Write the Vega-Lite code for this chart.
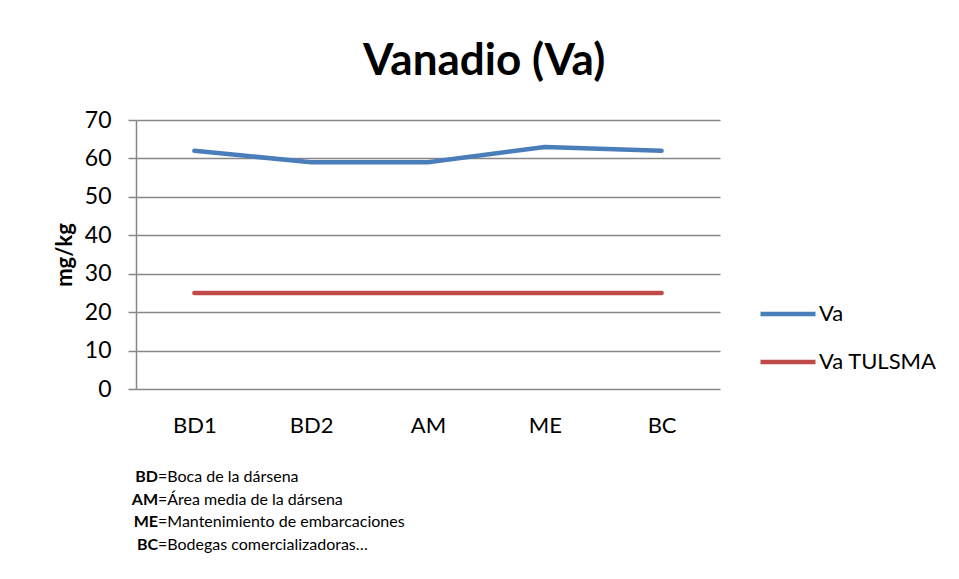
{
  "$schema": "https://vega.github.io/schema/vega-lite/v6.json",
  "padding": {"left": 53, "top": 40, "right": 0, "bottom": 0},
  "background": "white",
  "title": {
    "text": "Vanadio (Va)",
    "font": "Lato",
    "fontSize": 44,
    "fontWeight": "bold",
    "color": "#000000",
    "anchor": "middle",
    "offset": 25,
    "dx": -11
  },
  "config": {
    "view": {"stroke": null},
    "font": "Lato"
  },
  "spacing": 30,
  "vconcat": [
    {
      "width": 584,
      "height": 269,
      "data": {
        "values": [
          {"site": "BD1", "series": "Va", "value": 62},
          {"site": "BD2", "series": "Va", "value": 59},
          {"site": "AM", "series": "Va", "value": 59},
          {"site": "ME", "series": "Va", "value": 63},
          {"site": "BC", "series": "Va", "value": 62},
          {"site": "BD1", "series": "Va TULSMA", "value": 25},
          {"site": "BD2", "series": "Va TULSMA", "value": 25},
          {"site": "AM", "series": "Va TULSMA", "value": 25},
          {"site": "ME", "series": "Va TULSMA", "value": 25},
          {"site": "BC", "series": "Va TULSMA", "value": 25}
        ]
      },
      "mark": {"type": "line", "strokeWidth": 4.5, "strokeCap": "round", "strokeJoin": "round"},
      "encoding": {
        "x": {
          "field": "site",
          "type": "nominal",
          "sort": ["BD1", "BD2", "AM", "ME", "BC"],
          "scale": {"type": "point", "padding": 0.5},
          "axis": {
            "title": null,
            "labelAngle": 0,
            "labelFont": "Lato",
            "labelFontSize": 22,
            "labelColor": "#000000",
            "labelPadding": 26,
            "ticks": false,
            "tickSize": 0,
            "domain": false,
            "grid": false
          }
        },
        "y": {
          "field": "value",
          "type": "quantitative",
          "scale": {"domain": [0, 70], "nice": false},
          "axis": {
            "title": "mg/kg",
            "titleFont": "Lato",
            "titleFontSize": 22,
            "titleFontWeight": "bold",
            "titleColor": "#000000",
            "titlePadding": 8,
            "values": [0, 10, 20, 30, 40, 50, 60, 70],
            "labelFont": "Lato",
            "labelFontSize": 23,
            "labelColor": "#000000",
            "labelPadding": 17,
            "tickSize": 8,
            "tickColor": "#878787",
            "tickWidth": 1.5,
            "domainColor": "#878787",
            "domainWidth": 1.5,
            "gridColor": "#878787",
            "gridWidth": 1.5
          }
        },
        "color": {
          "field": "series",
          "type": "nominal",
          "scale": {"domain": ["Va", "Va TULSMA"], "range": ["#4A7EBB", "#BE4B48"]},
          "legend": {
            "title": null,
            "orient": "none",
            "legendX": 622,
            "legendY": 164,
            "padding": 0,
            "symbolType": "stroke",
            "symbolSize": 3025,
            "symbolStrokeWidth": 4.5,
            "labelFont": "Lato",
            "labelFontSize": 22,
            "labelColor": "#000000",
            "labelOffset": 1,
            "rowPadding": 7
          }
        }
      }
    },
    {
      "width": 44,
      "height": 90,
      "data": {
        "values": [
          {"line": 1, "abbr": "BD", "desc": "=Boca de la dársena"},
          {"line": 2, "abbr": "AM", "desc": "=Área media de la dársena"},
          {"line": 3, "abbr": "ME", "desc": "=Mantenimiento de embarcaciones"},
          {"line": 4, "abbr": "BC", "desc": "=Bodegas comercializadoras…"}
        ]
      },
      "encoding": {
        "y": {"field": "line", "type": "ordinal", "axis": null, "scale": {"type": "point", "padding": 0.5}}
      },
      "layer": [
        {
          "mark": {"type": "text", "align": "right", "baseline": "middle", "font": "Lato", "fontSize": 16, "fontWeight": "bold", "color": "#000000"},
          "encoding": {"text": {"field": "abbr"}}
        },
        {
          "mark": {"type": "text", "align": "left", "baseline": "middle", "font": "Lato", "fontSize": 16, "color": "#000000"},
          "encoding": {"text": {"field": "desc"}}
        }
      ]
    }
  ]
}
